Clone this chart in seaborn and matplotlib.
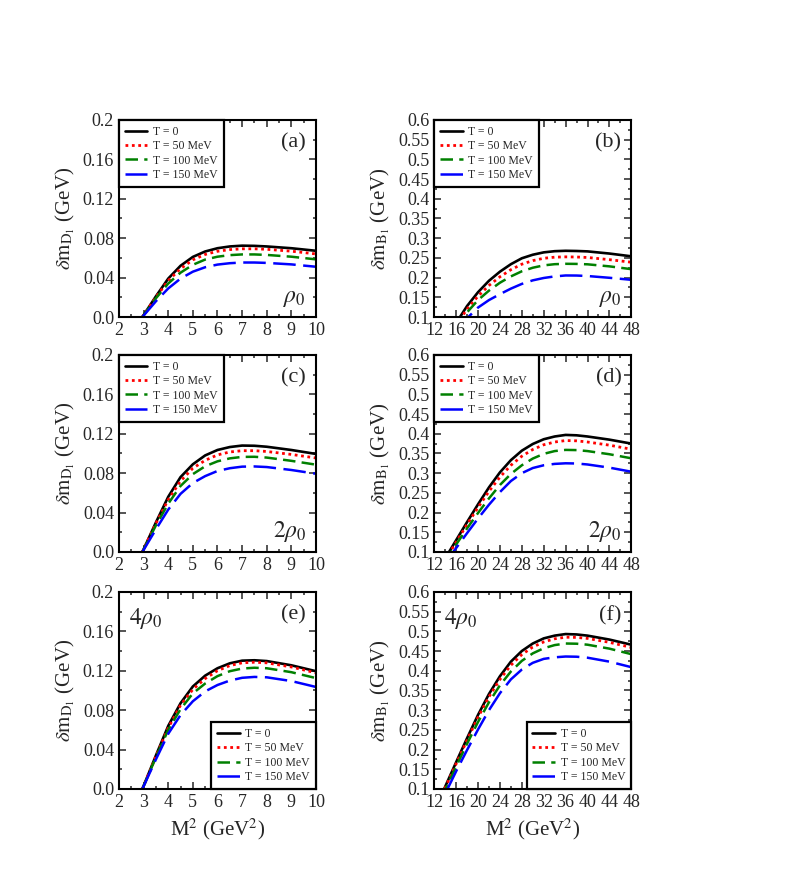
import numpy as np
import pandas as pd
import matplotlib
matplotlib.use('Agg')
import matplotlib.pyplot as plt
from matplotlib.ticker import MultipleLocator
import seaborn as sns

# Datos: delta m de D1 y B1 vs M^2
temps = ['T = 0', 'T = 50 MeV', 'T = 100 MeV', 'T = 150 MeV']

x_D = [2.95, 3.5, 4, 4.5, 5, 5.5, 6, 6.5, 7, 7.5, 8, 9, 10]

d1_rho0 = [
    [0.0, 0.021, 0.039, 0.052, 0.061, 0.0665, 0.0698, 0.0716, 0.0724, 0.0722, 0.0716, 0.0698, 0.0672],
    [0.0, 0.020, 0.037, 0.049, 0.058, 0.0635, 0.0667, 0.0684, 0.0692, 0.0692, 0.0687, 0.0668, 0.0640],
    [0.0, 0.019, 0.034, 0.045, 0.053, 0.0583, 0.0612, 0.0628, 0.0635, 0.0635, 0.0630, 0.0612, 0.0585],
    [0.0, 0.016, 0.029, 0.039, 0.046, 0.0505, 0.0532, 0.0546, 0.0553, 0.0553, 0.0549, 0.0534, 0.0510],
]
d1_2rho0 = [
    [0.0, 0.030, 0.056, 0.076, 0.089, 0.098, 0.1035, 0.1065, 0.1080, 0.1078, 0.1068, 0.1035, 0.0995],
    [0.0, 0.029, 0.053, 0.072, 0.085, 0.093, 0.0985, 0.1015, 0.1028, 0.1028, 0.1020, 0.0990, 0.0954],
    [0.0, 0.027, 0.049, 0.067, 0.079, 0.087, 0.0920, 0.0950, 0.0965, 0.0966, 0.0958, 0.0925, 0.0886],
    [0.0, 0.023, 0.043, 0.059, 0.070, 0.077, 0.0822, 0.0850, 0.0866, 0.0868, 0.0862, 0.0832, 0.0794],
]
d1_4rho0 = [
    [0.0, 0.034, 0.064, 0.087, 0.104, 0.115, 0.1225, 0.1275, 0.1302, 0.1306, 0.1298, 0.1255, 0.1195],
    [0.0, 0.033, 0.062, 0.085, 0.101, 0.112, 0.1200, 0.1252, 0.1280, 0.1286, 0.1280, 0.1238, 0.1178],
    [0.0, 0.032, 0.060, 0.081, 0.097, 0.107, 0.1145, 0.1195, 0.1222, 0.1230, 0.1225, 0.1185, 0.1125],
    [0.0, 0.030, 0.056, 0.075, 0.089, 0.099, 0.1055, 0.1100, 0.1128, 0.1137, 0.1133, 0.1095, 0.1035],
]

x_B_rho0 = [16, 18, 20, 22, 24, 26, 28, 30, 32, 34, 36, 38, 40, 44, 48]
b1_rho0 = [
    [0.085, 0.128, 0.163, 0.192, 0.215, 0.234, 0.249, 0.258, 0.264, 0.267, 0.268, 0.2675, 0.2665, 0.261, 0.254],
    [0.080, 0.120, 0.153, 0.180, 0.202, 0.220, 0.234, 0.243, 0.249, 0.2518, 0.2526, 0.2522, 0.251, 0.2455, 0.239],
    [0.076, 0.112, 0.143, 0.167, 0.187, 0.203, 0.216, 0.225, 0.231, 0.234, 0.235, 0.2347, 0.2337, 0.2285, 0.2214],
    [0.068, 0.097, 0.124, 0.143, 0.158, 0.172, 0.184, 0.193, 0.199, 0.203, 0.2054, 0.2052, 0.204, 0.1995, 0.1944],
]

x_B_2rho0 = [14, 16, 18, 20, 22, 24, 26, 28, 30, 32, 34, 36, 38, 40, 44, 48]
b1_2rho0 = [
    [0.084, 0.130, 0.176, 0.221, 0.264, 0.302, 0.333, 0.357, 0.374, 0.386, 0.393, 0.397, 0.396, 0.393, 0.385, 0.375],
    [0.080, 0.125, 0.170, 0.213, 0.254, 0.290, 0.320, 0.343, 0.360, 0.372, 0.379, 0.3827, 0.382, 0.379, 0.371, 0.3607],
    [0.077, 0.119, 0.160, 0.199, 0.236, 0.270, 0.298, 0.320, 0.337, 0.349, 0.356, 0.359, 0.3585, 0.356, 0.348, 0.3377],
    [0.072, 0.110, 0.148, 0.185, 0.220, 0.252, 0.280, 0.300, 0.313, 0.320, 0.3235, 0.325, 0.3245, 0.322, 0.314, 0.3037],
]

x_B_4rho0 = [12, 14, 16, 18, 20, 22, 24, 26, 28, 30, 32, 34, 36, 38, 40, 44, 48]
b1_4rho0 = [
    [0.045, 0.106, 0.168, 0.229, 0.288, 0.341, 0.386, 0.423, 0.450, 0.469, 0.482, 0.489, 0.493, 0.492, 0.489, 0.479, 0.466],
    [0.042, 0.103, 0.164, 0.224, 0.282, 0.334, 0.378, 0.414, 0.441, 0.460, 0.473, 0.481, 0.485, 0.4845, 0.482, 0.472, 0.459],
    [0.038, 0.098, 0.157, 0.215, 0.270, 0.320, 0.363, 0.398, 0.425, 0.444, 0.457, 0.465, 0.469, 0.4685, 0.466, 0.456, 0.442],
    [0.030, 0.088, 0.145, 0.199, 0.251, 0.300, 0.343, 0.378, 0.403, 0.420, 0.430, 0.434, 0.436, 0.4355, 0.433, 0.423, 0.409],
]

# Estilo de cada temperatura
colores = ['black', '#ff0000', '#008000', '#0000ff']
estilos = ['-', (0, (1, 1.3)), (0, (5, 2.5)), (0, (9, 3))]
anchos = [1.9, 2.0, 1.8, 1.8]

sns.set_style('ticks')
plt.rcParams['font.family'] = ['Liberation Serif', 'DejaVu Serif']
plt.rcParams['mathtext.fontset'] = 'stix'

fig = plt.figure(figsize=(7.9, 8.69), dpi=100)

col_left = [0.1506, 0.5497]
row_bottom = [0.6352, 0.3648, 0.0921]
w, h = 0.2494, 0.2268

paneles = [
    (x_D, d1_rho0, 'D', r'$\rho_0$', '(a)'),
    (x_B_rho0, b1_rho0, 'B', r'$\rho_0$', '(b)'),
    (x_D, d1_2rho0, 'D', r'$2\rho_0$', '(c)'),
    (x_B_2rho0, b1_2rho0, 'B', r'$2\rho_0$', '(d)'),
    (x_D, d1_4rho0, 'D', r'$4\rho_0$', '(e)'),
    (x_B_4rho0, b1_4rho0, 'B', r'$4\rho_0$', '(f)'),
]

for i, (xs, series, meson, dens, etiqueta) in enumerate(paneles):
    fila, col = i // 2, i % 2
    ax = fig.add_axes([col_left[col], row_bottom[fila], w, h])
    for j in range(4):
        sns.lineplot(x=xs, y=series[j], ax=ax, color=colores[j], linestyle=estilos[j],
                     linewidth=anchos[j], label=temps[j], sort=False, estimator=None)

    if meson == 'D':
        ax.set_xlim(2, 10)
        ax.set_ylim(0, 0.2)
        ax.xaxis.set_major_locator(MultipleLocator(1))
        ax.xaxis.set_minor_locator(MultipleLocator(0.5))
        ax.set_yticks([0, 0.04, 0.08, 0.12, 0.16, 0.2])
        ax.set_yticklabels(['0.0', '0.04', '0.08', '0.12', '0.16', '0.2'])
        ax.yaxis.set_minor_locator(MultipleLocator(0.02))
        ax.set_ylabel(r'$\delta\mathrm{m}_{\mathrm{D}_1}$ (GeV)', fontsize=15)
    else:
        ax.set_xlim(12, 48)
        ax.set_ylim(0.1, 0.6)
        ax.xaxis.set_major_locator(MultipleLocator(4))
        ax.xaxis.set_minor_locator(MultipleLocator(2))
        ax.set_yticks([0.1, 0.15, 0.2, 0.25, 0.3, 0.35, 0.4, 0.45, 0.5, 0.55, 0.6])
        ax.set_yticklabels(['0.1', '0.15', '0.2', '0.25', '0.3', '0.35', '0.4', '0.45', '0.5', '0.55', '0.6'])
        ax.yaxis.set_minor_locator(MultipleLocator(0.025))
        ax.set_ylabel(r'$\delta\mathrm{m}_{\mathrm{B}_1}$ (GeV)', fontsize=15)

    ax.set_xlabel(r'M$^2$ (GeV$^2$)' if fila == 2 else '', fontsize=15)
    ax.tick_params(which='both', direction='in', top=True, right=True, labelsize=13, width=1.1)
    ax.tick_params(which='major', length=5)
    ax.tick_params(which='minor', length=2.5)
    for s in ax.spines.values():
        s.set_linewidth(1.5)
        s.set_color('black')

    ax.text(0.95, 0.93, etiqueta, transform=ax.transAxes, ha='right', va='top', fontsize=16)
    if fila < 2:
        ax.text(0.95, 0.04, dens, transform=ax.transAxes, ha='right', va='bottom', fontsize=17)
        loc = 'upper left'
    else:
        ax.text(0.05, 0.93, dens, transform=ax.transAxes, ha='left', va='top', fontsize=17)
        loc = 'lower right'

    leg = ax.legend(loc=loc, fontsize=8.5, frameon=True, fancybox=False, borderaxespad=0.0,
                    handlelength=1.9, handletextpad=0.5, labelspacing=0.2, borderpad=0.5)
    leg.get_frame().set_edgecolor('black')
    leg.get_frame().set_linewidth(1.6)
    leg.get_frame().set_alpha(1)

fig.savefig('out.png', dpi=100)
